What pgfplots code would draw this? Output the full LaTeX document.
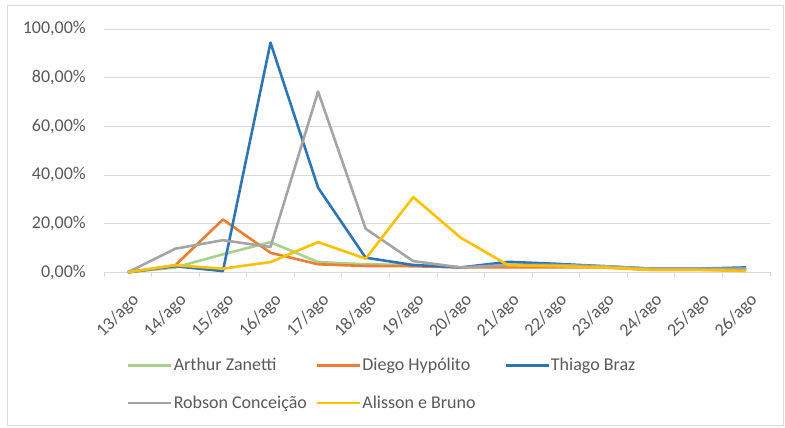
\documentclass[border=0pt]{standalone}
\usepackage{pgfplots}
\pgfplotsset{compat=1.18}
\usepackage{fontspec}
\setmainfont{Carlito}

\definecolor{cZanetti}{HTML}{A9D18E}
\definecolor{cHypolito}{HTML}{ED7D31}
\definecolor{cBraz}{HTML}{2E75B6}
\definecolor{cConceicao}{HTML}{A5A5A5}
\definecolor{cAlisson}{HTML}{FFC000}
\definecolor{gridgray}{HTML}{D9D9D9}
\definecolor{labelgray}{HTML}{595959}

\newcommand{\chartfont}{\fontsize{18bp}{21.6bp}\selectfont}

% Daily share per athlete, 13/ago (0) to 26/ago (13), in percent
\pgfplotstableread{
day zanetti hypolito braz conceicao alisson
0   0.0     0.0      0.0  0.0       0.0
1   2.0     2.9      2.5  9.7       2.9
2   7.4     21.7     0.5  13.2      1.5
3   12.4    8.0      94.4 10.4      4.2
4   4.2     3.3      34.8 74.3      12.4
5   3.3     2.6      6.0  17.9      5.6
6   3.0     2.5      3.0  4.6       30.9
7   2.0     2.0      2.0  2.0       14.2
8   3.0     2.0      4.3  3.0       2.9
9   3.0     2.0      3.5  3.0       2.5
10  2.5     2.0      2.5  2.5       2.0
11  1.5     1.0      1.5  1.5       1.0
12  1.5     1.0      1.5  1.5       1.0
13  1.0     1.0      2.0  1.5       0.5
}\shares

\begin{document}
\begin{tikzpicture}[x=1bp,y=1bp]
\useasboundingbox (0,0) rectangle (785,427);
\draw[gridgray, line width=0.8bp] (7,2) rectangle (783.5,422);
\begin{axis}[
  at={(104bp,154.7bp)}, anchor=south west,
  scale only axis, width=666bp, height=243.3bp,
  xmin=-0.5, xmax=13.5, ymin=0, ymax=100,
  clip=false,
  axis lines*=left,
  y axis line style={draw=none},
  x axis line style={draw=gridgray, line width=0.8bp, -},
  xtick={0,...,13},
  xticklabels={13/ago,14/ago,15/ago,16/ago,17/ago,18/ago,19/ago,20/ago,21/ago,22/ago,23/ago,24/ago,25/ago,26/ago},
  major x tick style={draw=none},
  extra x ticks={-0.5,0.5,...,13.5},
  extra x tick labels={},
  extra x tick style={major x tick style={draw=gridgray, line width=0.8bp}, tick align=outside, major tick length=5bp, grid=none},
  ytick={0,20,...,100},
  yticklabels={{0,00\%},{20,00\%},{40,00\%},{60,00\%},{80,00\%},{100,00\%}},
  major y tick style={draw=none},
  ymajorgrids,
  major grid style={draw=gridgray, line width=0.8bp},
  ticklabel style={font=\chartfont, text=labelgray, inner sep=0pt},
  yticklabel style={anchor=east, xshift=-18bp},
  xticklabel style={rotate=45, anchor=east, xshift=-12bp, yshift=-24bp},
  legend columns=3,
  legend style={at={(0.0345,-0.342)}, anchor=north west, draw=none, fill=none,
    inner sep=0pt, font=\chartfont, text=labelgray,
    column sep=0pt, row sep=18.7bp,
    nodes={inner xsep=1bp, inner ysep=0pt, text height=15bp, text depth=4bp}},
  legend image code/.code={\draw[#1, line width=2.6bp] (0bp,0bp) -- (43bp,0bp);},
  every axis plot/.append style={line width=2.6bp, line join=round},
]
\addplot[cZanetti] table[x=day, y=zanetti] {\shares};
\addlegendentry{\makebox[141bp][l]{Arthur Zanetti}}
\addplot[cHypolito] table[x=day, y=hypolito] {\shares};
\addlegendentry{\makebox[141bp][l]{Diego Hypólito}}
\addplot[cBraz] table[x=day, y=braz] {\shares};
\addlegendentry{\makebox[141bp][l]{Thiago Braz}}
\addplot[cConceicao] table[x=day, y=conceicao] {\shares};
\addlegendentry{\makebox[141bp][l]{Robson Conceição}}
\addplot[cAlisson] table[x=day, y=alisson] {\shares};
\addlegendentry{\makebox[141bp][l]{Alisson e Bruno}}
\end{axis}
\end{tikzpicture}
\end{document}
